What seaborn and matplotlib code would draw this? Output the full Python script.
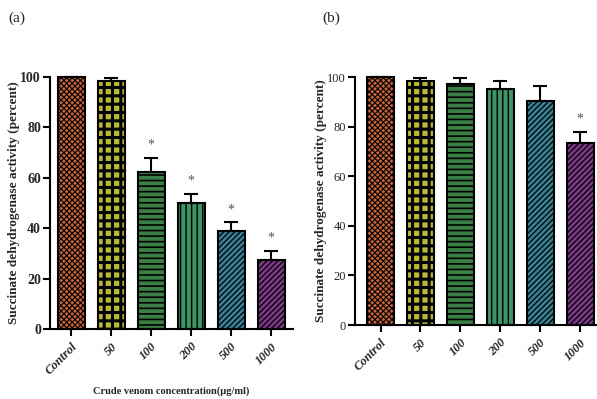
import matplotlib
matplotlib.use("Agg")
import matplotlib.pyplot as plt
import seaborn as sns
import pandas as pd
import numpy as np

# Succinate dehydrogenase activity (% of control) vs crude venom concentration
categories = ["Control", "50", "100", "200", "500", "1000"]
activity_a = [100.0, 98.5, 62.5, 50.0, 39.0, 27.5]
sem_a = [0.0, 1.0, 5.5, 3.6, 3.4, 3.6]
signif_a = [False, False, True, True, True, True]

activity_b = [100.0, 98.5, 97.2, 95.0, 90.2, 73.3]
sem_b = [0.0, 1.0, 2.4, 3.4, 6.0, 4.6]
signif_b = [False, False, False, False, False, True]

bar_colors = ["#dc5a22", "#cfcf1e", "#2f8a3a", "#2ea466", "#2a88a4", "#862c94"]
bar_hatches = ["xxxxxx", "++", "---", "|||", "//////", "//////"]
hatch_widths = [0.8, 2.2, 1.2, 1.0, 0.9, 0.9]

sns.set_theme(style="ticks")
plt.rcParams["font.family"] = ["Liberation Serif", "DejaVu Serif"]
plt.rcParams["hatch.linewidth"] = 1.0

fig = plt.figure(figsize=(5.97, 3.99), dpi=100)
W, H = 597.0, 399.0


def px_axes(left, right, top, bottom):
    return fig.add_axes([left / W, 1 - bottom / H, (right - left) / W, (bottom - top) / H])


def draw_panel(ax, values, errors, signif, xlim, tick_weight, tick_size, ylabel_x):
    df = pd.DataFrame({"conc": categories, "activity": values})
    sns.barplot(data=df, x="conc", y="activity", hue="conc", order=categories,
                hue_order=categories, palette=bar_colors, legend=False,
                width=0.675, errorbar=None, edgecolor="black", linewidth=1.5,
                ax=ax)
    for patch, hatch, hw in zip(ax.patches, bar_hatches, hatch_widths):
        patch.set_hatch(hatch)
        if hasattr(patch, "set_hatch_linewidth"):
            patch.set_hatch_linewidth(hw)
        patch.set_clip_on(False)
    xs = np.arange(len(categories))
    ax.errorbar(xs, values, yerr=[np.zeros(len(values)), errors], fmt="none",
                ecolor="black", elinewidth=1.5, capsize=5, capthick=1.5,
                clip_on=False, zorder=3)
    for x, v, e, s in zip(xs, values, errors, signif):
        if s:
            ax.text(x, v + e + 5, "*", ha="center", va="center",
                    fontsize=10, color="#555555")
    ax.set_xlim(*xlim)
    ax.set_ylim(0, 100)
    ax.set_yticks([0, 20, 40, 60, 80, 100])
    sns.despine(ax=ax)
    for sp in ("left", "bottom"):
        ax.spines[sp].set_linewidth(1.5)
        ax.spines[sp].set_color("black")
    ax.tick_params(axis="both", direction="out", length=5, width=1.5, color="black")
    ax.tick_params(axis="y", pad=1.5)
    ax.set_yticklabels([str(t) for t in [0, 20, 40, 60, 80, 100]],
                       fontsize=tick_size, fontweight=tick_weight)
    ax.set_xticks(xs)
    ax.set_xticklabels(categories, rotation=45, ha="right", rotation_mode="anchor",
                       fontsize=9, fontweight="bold", fontstyle="italic")
    ax.set_xlabel("")
    ax.set_ylabel("Succinate dehydrogenase activity (percent)", fontsize=9.5,
                  fontweight="bold")
    ax.yaxis.set_label_coords(ylabel_x, 0.5)


ax_a = px_axes(50, 293, 77, 329)
draw_panel(ax_a, activity_a, sem_a, signif_a, (-0.525, 5.55), "bold", 10,
           (20 - 50) / 243)

ax_b = px_axes(355, 602, 77, 325)
draw_panel(ax_b, activity_b, sem_b, signif_b, (-0.64, 5.55), "normal", 9,
           (327 - 355) / 247)

fig.text(171.5 / W, 1 - 391 / H, "Crude venom concentration(\u00b5g/ml)",
         fontsize=7.5, fontweight="bold", ha="center", va="center")
fig.text(8 / W, 1 - 18 / H, "(a)", fontsize=11, va="center", ha="left")
fig.text(322 / W, 1 - 18 / H, "(b)", fontsize=11, va="center", ha="left")

fig.savefig("out.png", dpi=100)
